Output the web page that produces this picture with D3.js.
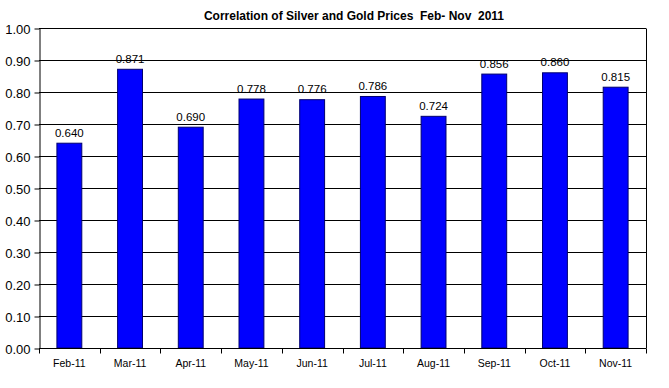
<!DOCTYPE html>
<html>
<head>
<meta charset="utf-8">
<script src="https://cdn.jsdelivr.net/npm/d3@7"></script>
<style>
  body { margin: 0; background: #fff; }
  text { font-family: "Liberation Sans", Arial, sans-serif; }
</style>
</head>
<body>
<svg id="chart"></svg>
<script>
const months = ["Feb-11", "Mar-11", "Apr-11", "May-11", "Jun-11", "Jul-11", "Aug-11", "Sep-11", "Oct-11", "Nov-11"]
const correlation = [0.640, 0.871, 0.690, 0.778, 0.776, 0.786, 0.724, 0.856, 0.860, 0.815]
const yTicks = [0, 0.1, 0.2, 0.3, 0.4, 0.5, 0.6, 0.7, 0.8, 0.9, 1.0]

const width = 669
const height = 388
const margin = { top: 28, right: 23, bottom: 40, left: 39 }

const svg = d3.select("#chart")
    .attr("width", width)
    .attr("height", height)

const x = d3.scaleBand()
    .domain(months)
    .range([margin.left, width - margin.right])
    .paddingInner(0.59)
    .paddingOuter(0.295)

const y = d3.scaleLinear()
    .domain([0, 1])
    .range([height - margin.bottom, margin.top])

// gridlines
svg.append("g")
    .selectAll("line")
    .data(yTicks)
    .enter()
    .append("line")
    .attr("x1", margin.left)
    .attr("x2", width - margin.right)
    .attr("y1", d => Math.round(y(d)) + 0.5)
    .attr("y2", d => Math.round(y(d)) + 0.5)
    .attr("stroke", "#000")
    .attr("stroke-width", 1)

// right border
svg.append("line")
    .attr("x1", width - margin.right + 0.5)
    .attr("x2", width - margin.right + 0.5)
    .attr("y1", Math.round(y(1)) + 0.5)
    .attr("y2", Math.round(y(0)) + 0.5)
    .attr("stroke", "#000")

// bars
svg.append("g")
    .selectAll("rect")
    .data(correlation)
    .enter()
    .append("rect")
    .attr("x", (d, i) => x(months[i]))
    .attr("y", d => y(d))
    .attr("width", x.bandwidth())
    .attr("height", d => y(0) - y(d))
    .attr("fill", "#0000ff")
    .attr("stroke", "#000070")
    .attr("stroke-width", 1)

// value labels
svg.append("g")
    .selectAll("text")
    .data(correlation)
    .enter()
    .append("text")
    .attr("x", (d, i) => x(months[i]) + x.bandwidth() / 2)
    .attr("y", d => y(d) - 6.5)
    .attr("text-anchor", "middle")
    .attr("font-size", 11.5)
    .attr("fill", "#000")
    .text(d => d.toFixed(3))

// y axis
const yAxis = svg.append("g")
    .attr("transform", `translate(${margin.left + 0.5},0.5)`)
    .call(d3.axisLeft(y).tickValues(yTicks).tickFormat(d3.format(".2f")).tickSize(5).tickSizeOuter(0))
yAxis.select(".domain").attr("stroke", "#000")
yAxis.selectAll("text")
    .attr("font-size", 13)
    .attr("font-family", "Liberation Sans, Arial, sans-serif")
    .attr("fill", "#000")
    .attr("dx", -1)
    .attr("dy", "0.35em")

// x axis
const step = x.step()
const boundaries = d3.range(months.length + 1).map(i => margin.left + i * step)
const xAxis = svg.append("g")
xAxis.append("line")
    .attr("x1", margin.left)
    .attr("x2", width - margin.right)
    .attr("y1", Math.round(y(0)) + 0.5)
    .attr("y2", Math.round(y(0)) + 0.5)
    .attr("stroke", "#000")
xAxis.selectAll(".tick")
    .data(boundaries)
    .enter()
    .append("line")
    .attr("x1", d => Math.round(d) + 0.5)
    .attr("x2", d => Math.round(d) + 0.5)
    .attr("y1", Math.round(y(0)) + 0.5)
    .attr("y2", Math.round(y(0)) + 5.5)
    .attr("stroke", "#000")
xAxis.selectAll("text")
    .data(months)
    .enter()
    .append("text")
    .attr("x", d => x(d) + x.bandwidth() / 2)
    .attr("y", y(0) + 19)
    .attr("text-anchor", "middle")
    .attr("font-size", 10.5)
    .attr("fill", "#000")
    .text(d => d)

// title
svg.append("text")
    .attr("x", 354)
    .attr("y", 20)
    .attr("text-anchor", "middle")
    .attr("font-size", 12)
    .attr("font-weight", "bold")
    .attr("font-family", "Liberation Sans Narrow, Arial Narrow, sans-serif")
    .attr("fill", "#000")
    .text("Correlation of Silver and Gold Prices  Feb- Nov  2011")
    .attr("xml:space", "preserve")
</script>
</body>
</html>
